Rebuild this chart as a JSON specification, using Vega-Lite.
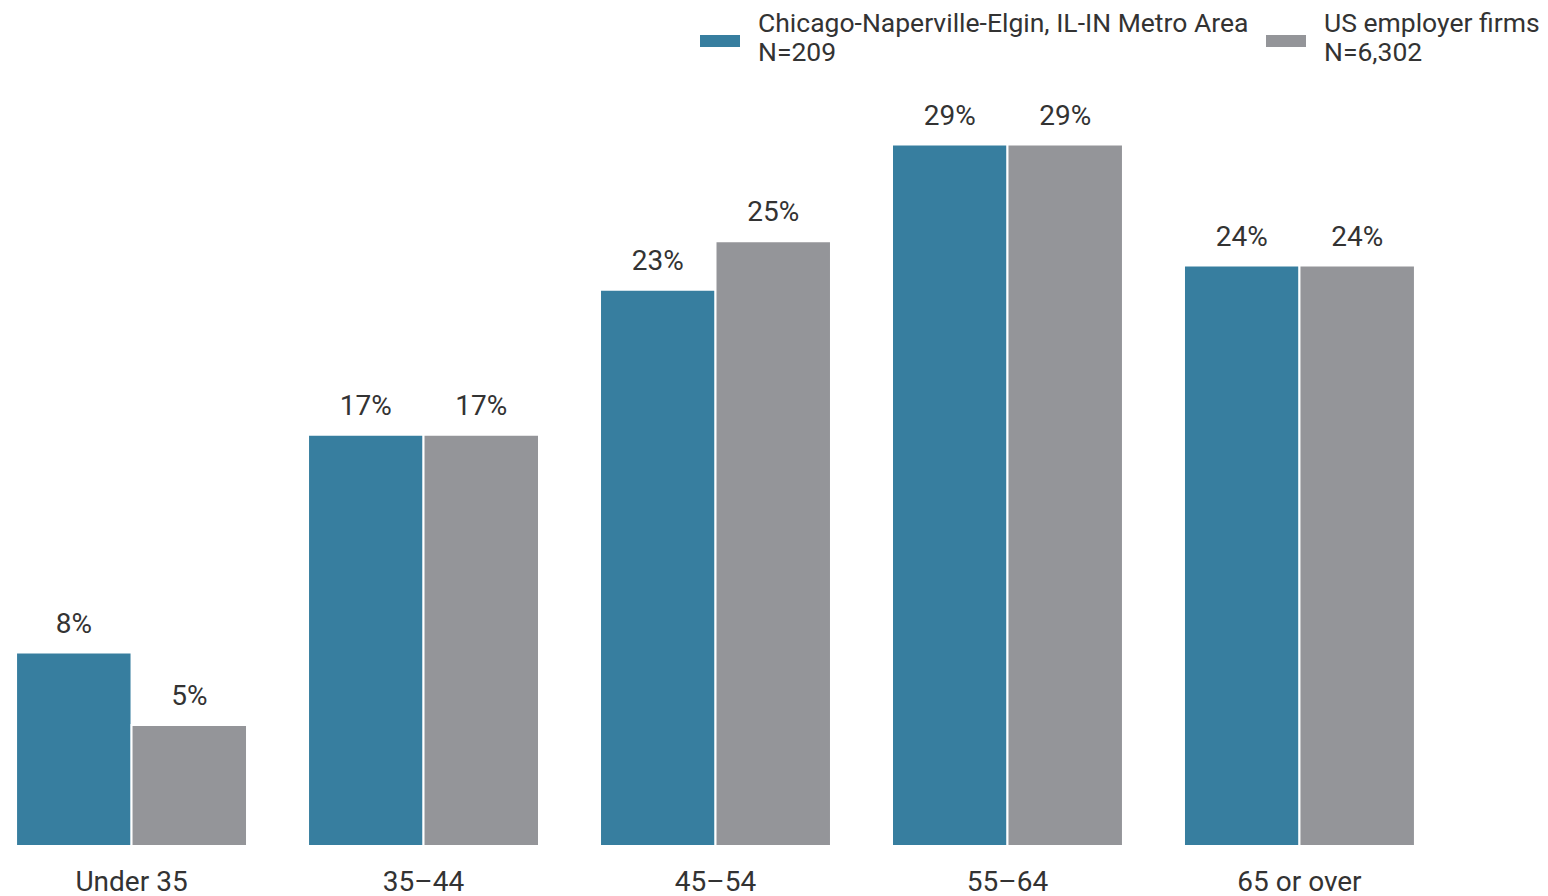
{
  "$schema": "https://vega.github.io/schema/vega-lite/v6.json",
  "autosize": {"type": "none"},
  "width": 1431,
  "height": 774,
  "padding": {"left": 0, "top": 72, "right": 117, "bottom": 50},
  "background": "white",
  "config": {
    "view": {"stroke": null},
    "font": "Roboto",
    "text": {"font": "Roboto"}
  },
  "data": {
    "values": [
      {"age": "Under 35", "series": "Chicago", "value": 0.08},
      {"age": "Under 35", "series": "US", "value": 0.05},
      {"age": "35–44", "series": "Chicago", "value": 0.17},
      {"age": "35–44", "series": "US", "value": 0.17},
      {"age": "45–54", "series": "Chicago", "value": 0.23},
      {"age": "45–54", "series": "US", "value": 0.25},
      {"age": "55–64", "series": "Chicago", "value": 0.29},
      {"age": "55–64", "series": "US", "value": 0.29},
      {"age": "65 or over", "series": "Chicago", "value": 0.24},
      {"age": "65 or over", "series": "US", "value": 0.24}
    ]
  },
  "encoding": {
    "x": {
      "field": "age",
      "type": "nominal",
      "sort": ["Under 35", "35–44", "45–54", "55–64", "65 or over"],
      "scale": {"paddingInner": 0.209, "paddingOuter": 0.055},
      "axis": {
        "title": null,
        "domain": false,
        "ticks": false,
        "labelAngle": 0,
        "labelFont": "Roboto",
        "labelFontSize": 28,
        "labelColor": "#333333",
        "labelPadding": 22
      }
    },
    "xOffset": {
      "field": "series",
      "type": "nominal",
      "sort": ["Chicago", "US"],
      "scale": {"paddingInner": 0, "paddingOuter": 0}
    },
    "y": {
      "field": "value",
      "type": "quantitative",
      "scale": {"domain": [0, 0.32], "nice": false},
      "axis": null
    }
  },
  "layer": [
    {
      "mark": {"type": "bar", "stroke": "white", "strokeWidth": 2},
      "encoding": {
        "color": {
          "field": "series",
          "type": "nominal",
          "sort": ["Chicago", "US"],
          "scale": {"domain": ["Chicago", "US"], "range": ["#377e9f", "#949599"]},
          "legend": {
            "title": null,
            "orient": "none",
            "direction": "horizontal",
            "legendX": 700,
            "legendY": -68,
            "padding": 0,
            "symbolType": "M-1,0.55H1V1.15H-1Z",
            "symbolSize": 1600,
            "symbolStrokeWidth": 0,
            "symbolOpacity": 1,
            "labelFont": "Roboto",
            "labelFontSize": 26.5,
            "labelColor": "#333333",
            "labelOffset": 18,
            "labelLimit": 600,
            "columnPadding": 17,
            "labelExpr": "datum.label == 'US' ? ['US employer firms', 'N=6,302'] : ['Chicago-Naperville-Elgin, IL-IN Metro Area', 'N=209']"
          }
        }
      }
    },
    {
      "mark": {
        "type": "text",
        "baseline": "alphabetic",
        "dy": -20,
        "fontSize": 28,
        "font": "Roboto",
        "color": "#333333"
      },
      "encoding": {
        "text": {"field": "value", "type": "quantitative", "format": ".0%"},
        "detail": {"field": "series"}
      }
    }
  ]
}
